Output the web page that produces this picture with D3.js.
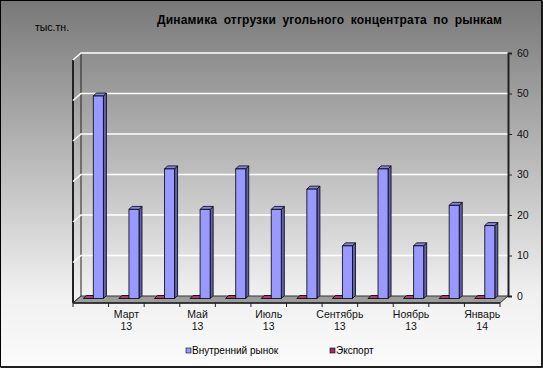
<!DOCTYPE html>
<html>
<head>
<meta charset="utf-8">
<script src="https://cdn.jsdelivr.net/npm/d3@7"></script>
<style>
  html, body { margin: 0; padding: 0; background: #fff; }
  svg { display: block; font-family: "Liberation Sans", Arial, sans-serif; }
</style>
</head>
<body>
<div id="chart"></div>
<script>
// chart data
const months = ["Февраль 13", "Март 13", "Апрель 13", "Май 13", "Июнь 13", "Июль 13",
                "Август 13", "Сентябрь 13", "Октябрь 13", "Ноябрь 13", "Декабрь 13", "Январь 14"];
const seriesNames = ["Экспорт", "Внутренний рынок"];
const exportValues = [0, 0, 0, 0, 0, 0, 0, 0, 0, 0, 0, 0];
const domesticValues = [50, 22, 32, 22, 32, 22, 27, 13, 32, 13, 23, 18];
const yTicks = [0, 10, 20, 30, 40, 50, 60];
const legendOrder = ["Внутренний рынок", "Экспорт"];

const W = 543, H = 368;
// back wall and 3d depth offsets
const back = { left: 81, right: 508, top: 53, bottom: 296 };
const depth = { dx: -8, dy: 7 };        // back -> front
const barDepth = { dx: 3, dy: -3 };     // bar front face -> bar back face
const barOffset = { dx: 5.5, dy: -4.5 }; // front plane -> bar front face

const colors = {
    "Внутренний рынок": { front: "#9999ff", top: "#8585e0", side: "#6262b0" },
    "Экспорт": { front: "#993366", top: "#a84070", side: "#6b2447" }
};

const svg = d3.select("#chart").append("svg")
    .attr("width", W)
    .attr("height", H);

// background gradient
const defs = svg.append("defs");
const grad = defs.append("linearGradient")
    .attr("id", "bg")
    .attr("x1", 0).attr("y1", 0).attr("x2", 0).attr("y2", 1);
grad.append("stop").attr("offset", 0).attr("stop-color", "#787878");
grad.append("stop").attr("offset", 0.5).attr("stop-color", "#c3c3c3");
grad.append("stop").attr("offset", 0.8).attr("stop-color", "#f0f0f0");
grad.append("stop").attr("offset", 1).attr("stop-color", "#fbfbfb");

svg.append("rect")
    .attr("x", 0.5).attr("y", 0.5)
    .attr("width", W - 1.5).attr("height", H - 1.5)
    .attr("fill", "url(#bg)")
    .attr("stroke", "#000");
svg.append("path")
    .attr("d", `M${W - 1},1 V${H - 1} H1`)
    .attr("fill", "none")
    .attr("stroke", "#000")
    .attr("stroke-width", 1.5);

// scales
const y = d3.scaleLinear().domain([0, 60]).range([back.bottom, back.top]);
const yBar = d3.scaleLinear().domain([0, 60])
    .range([back.bottom + depth.dy + barOffset.dy, back.top + depth.dy + barOffset.dy]);
const x = d3.scaleBand().domain(months)
    .range([back.left + depth.dx, back.right + depth.dx]);
const bw = x.bandwidth();
const xs = d3.scaleBand().domain(seriesNames).range([bw * 0.135, bw * 0.70]);

// left wall
const wall = svg.append("g");
wall.append("path")
    .attr("d", `M${back.left},${back.top} L${back.left + depth.dx},${back.top + depth.dy}
                L${back.left + depth.dx},${back.bottom + depth.dy} L${back.left},${back.bottom} Z`)
    .attr("fill", "none")
    .attr("stroke", "#222")
    .attr("stroke-width", 1);
wall.append("line")
    .attr("x1", back.left + depth.dx).attr("x2", back.left + depth.dx)
    .attr("y1", back.top + depth.dy).attr("y2", back.bottom + depth.dy)
    .attr("stroke", "#222").attr("stroke-width", 2);

// floor
svg.append("path")
    .attr("d", `M${back.left},${back.bottom} L${back.right},${back.bottom}
                L${back.right + depth.dx},${back.bottom + depth.dy}
                L${back.left + depth.dx},${back.bottom + depth.dy} Z`)
    .attr("fill", "#9c9c9c")
    .attr("stroke", "#333")
    .attr("stroke-width", 1);

// gridlines on back wall and left wall
const grid = svg.append("g").attr("stroke", "#fff").attr("stroke-width", 1.5).attr("fill", "none");
grid.selectAll("path")
    .data(yTicks.filter(d => d > 0))
    .join("path")
    .attr("d", d => `M${back.left + depth.dx},${y(d) + depth.dy} L${back.left},${y(d)} L${back.right},${y(d)}`);

// value axis on the right
const yAxis = svg.append("g")
    .attr("transform", `translate(${back.right},0)`)
    .call(d3.axisRight(y).tickValues(yTicks).tickSize(4).tickPadding(5));
yAxis.select(".domain").attr("stroke", "#222").attr("stroke-width", 2);
yAxis.selectAll(".tick line").attr("stroke", "#222");
yAxis.selectAll(".tick text")
    .attr("font-size", 10.5)
    .attr("fill", "#111")
    .attr("font-family", "Liberation Sans, Arial, sans-serif");

// category axis on the front edge
const xAxisY = back.bottom + depth.dy;
const xAxis = svg.append("g").attr("transform", `translate(0,${xAxisY})`);
xAxis.append("line")
    .attr("x1", x.range()[0]).attr("x2", x.range()[1])
    .attr("stroke", "#222").attr("stroke-width", 1.5);
const bounds = months.map(m => x(m)).concat([x.range()[1]]);
xAxis.selectAll("line.tick")
    .data(bounds)
    .join("line")
    .attr("class", "tick")
    .attr("x1", d => d).attr("x2", d => d)
    .attr("y1", 0).attr("y2", 4)
    .attr("stroke", "#222");
const labels = xAxis.selectAll("text")
    .data(months.filter((m, i) => i % 2 === 1))
    .join("text")
    .attr("text-anchor", "middle")
    .attr("font-size", 10.5)
    .attr("fill", "#111")
    .attr("transform", d => `translate(${x(d) + bw / 2},0)`);
labels.selectAll("tspan")
    .data(d => d.split(" "))
    .join("tspan")
    .attr("x", 0)
    .attr("y", (d, i) => 15 + i * 12)
    .text(d => d);

// 3d bars
const barData = [];
months.forEach((m, i) => {
    barData.push({ month: m, series: "Экспорт", value: exportValues[i] });
    barData.push({ month: m, series: "Внутренний рынок", value: domesticValues[i] });
});

const bars = svg.append("g")
    .selectAll("g.bar")
    .data(barData)
    .join("g")
    .attr("class", "bar")
    .attr("stroke", "#000")
    .attr("stroke-width", 0.8)
    .attr("stroke-linejoin", "round");

function geom(d) {
    const x0 = x(d.month) + xs(d.series) + barOffset.dx;
    const x1 = x0 + xs.bandwidth();
    const y0 = yBar(0);
    const y1 = yBar(d.value);
    return { x0, x1, y0, y1 };
}

bars.append("path")
    .attr("fill", d => colors[d.series].side)
    .attr("d", d => {
        const g = geom(d);
        return `M${g.x1},${g.y1} L${g.x1 + barDepth.dx},${g.y1 + barDepth.dy}
                L${g.x1 + barDepth.dx},${g.y0 + barDepth.dy} L${g.x1},${g.y0} Z`;
    });
bars.append("path")
    .attr("fill", d => colors[d.series].top)
    .attr("d", d => {
        const g = geom(d);
        return `M${g.x0},${g.y1} L${g.x0 + barDepth.dx},${g.y1 + barDepth.dy}
                L${g.x1 + barDepth.dx},${g.y1 + barDepth.dy} L${g.x1},${g.y1} Z`;
    });
bars.append("rect")
    .attr("fill", d => colors[d.series].front)
    .attr("x", d => geom(d).x0)
    .attr("y", d => geom(d).y1)
    .attr("width", xs.bandwidth())
    .attr("height", d => geom(d).y0 - geom(d).y1);

// titles
svg.append("text")
    .attr("x", 157).attr("y", 24)
    .attr("font-size", 12)
    .attr("font-weight", "bold")
    .attr("word-spacing", 3)
    .attr("textLength", 345)
    .attr("lengthAdjust", "spacing")
    .attr("fill", "#000")
    .text("Динамика отгрузки угольного концентрата по рынкам");

svg.append("text")
    .attr("x", 35).attr("y", 31)
    .attr("font-size", 10.5)
    .attr("fill", "#000")
    .text("тыс.тн.");

// legend
const legendX = { "Внутренний рынок": 186, "Экспорт": 330 };
const legend = svg.append("g")
    .selectAll("g")
    .data(legendOrder)
    .join("g")
    .attr("transform", d => `translate(${legendX[d]},353)`);
legend.append("rect")
    .attr("x", 0).attr("y", -5)
    .attr("width", 5).attr("height", 5)
    .attr("fill", d => colors[d].front)
    .attr("stroke", "#000")
    .attr("stroke-width", 0.6);
legend.append("text")
    .attr("x", 6).attr("y", 0.5)
    .attr("font-size", 10)
    .attr("fill", "#000")
    .text(d => d);
</script>
</body>
</html>
